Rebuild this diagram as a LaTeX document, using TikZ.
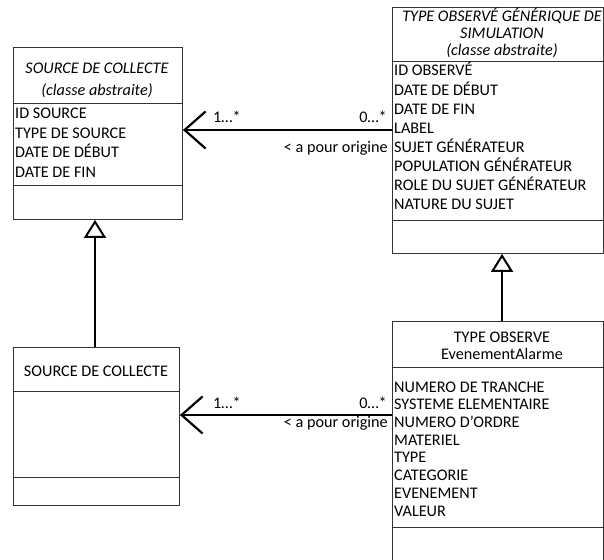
\documentclass[tikz,border=0pt]{standalone}
\usepackage{fontspec}
\setmainfont{Carlito}
\usetikzlibrary{arrows.meta}
\begin{document}
\begin{tikzpicture}[x=1pt,y=-1pt,
  box/.style={draw=black!80, line width=0.9pt, inner sep=0pt, anchor=north west, fill=none},
  sep/.style={draw=black!80, line width=0.9pt},
  txt/.style={inner sep=0pt, font=\fontsize{16.2}{19}\selectfont},
  attr/.style={txt, anchor=base west, yshift=-5.2pt},
  ttl/.style={txt, anchor=base, yshift=-5.2pt},
  lbl/.style={txt},
  assoc/.style={line width=2.2pt, -{Straight Barb[length=21pt, width=37pt, line width=2.2pt]}},
  inh/.style={line width=2pt, -{Triangle[open, length=18pt, width=22pt, line width=2pt]}}]
\useasboundingbox (0,0) rectangle (604,559);

% boxes
\node[box, minimum width=169pt, minimum height=172pt] (src) at (13,47) {};
\node[box, minimum width=211pt, minimum height=246pt] (gen) at (392,7) {};
\node[box, minimum width=166pt, minimum height=158pt] (srcc) at (13,347) {};
\node[box, minimum width=211pt, minimum height=250pt] (alarm) at (392,321) {};

% separators
\draw[sep] (src.west |- 0,103) -- (src.east |- 0,103);
\draw[sep] (src.west |- 0,185) -- (src.east |- 0,185);
\draw[sep] (gen.west |- 0,61) -- (gen.east |- 0,61);
\draw[sep] (gen.west |- 0,220) -- (gen.east |- 0,220);
\draw[sep] (srcc.west |- 0,391) -- (srcc.east |- 0,391);
\draw[sep] (srcc.west |- 0,477) -- (srcc.east |- 0,477);
\draw[sep] (alarm.west |- 0,367) -- (alarm.east |- 0,367);
\draw[sep] (alarm.west |- 0,527) -- (alarm.east |- 0,527);

% titles
\node[ttl] (t1a) at (97,68) {\itshape SOURCE DE COLLECTE};
\node[ttl] (t1b) at (97,90) {\itshape (classe abstraite)};
\node[ttl] (t2a) at (502,16) {\itshape TYPE OBSERVÉ GÉNÉRIQUE DE};
\node[ttl] (t2b) at (502,33) {\itshape SIMULATION};
\node[ttl] (t2c) at (502,50) {\itshape (classe abstraite)};
\node[ttl] (t3) at (96,371) {SOURCE DE COLLECTE};
\node[ttl] (t4a) at (502,337) {TYPE OBSERVE};
\node[ttl] (t4b) at (502,354) {EvenementAlarme};

% attributes box 1
\node[attr] (a11) at (15,113) {ID SOURCE};
\node[attr] (a12) at (15,133) {TYPE DE SOURCE};
\node[attr] (a13) at (15,152) {DATE DE DÉBUT};
\node[attr] (a14) at (15,172) {DATE DE FIN};

% attributes box 2
\node[attr] (a21) at (394,70) {ID OBSERVÉ};
\node[attr] (a22) at (394,90) {DATE DE DÉBUT};
\node[attr] (a23) at (394,109) {DATE DE FIN};
\node[attr] (a24) at (394,128) {LABEL};
\node[attr] (a25) at (394,147) {SUJET GÉNÉRATEUR};
\node[attr] (a26) at (394,166) {POPULATION GÉNÉRATEUR};
\node[attr] (a27) at (394,185) {ROLE DU SUJET GÉNÉRATEUR};
\node[attr] (a28) at (394,204) {NATURE DU SUJET};

% attributes box 4
\node[attr] (a41) at (394,387) {NUMERO DE TRANCHE};
\node[attr] (a42) at (394,404.5) {SYSTEME ELEMENTAIRE};
\node[attr] (a43) at (394,422) {NUMERO D’ORDRE};
\node[attr] (a44) at (394,440) {MATERIEL};
\node[attr] (a45) at (394,457.5) {TYPE};
\node[attr] (a46) at (394,475) {CATEGORIE};
\node[attr] (a47) at (394,493) {EVENEMENT};
\node[attr] (a48) at (394,511) {VALEUR};

% associations
\draw[assoc] (gen.west |- 0,130) -- (src.east |- 0,130);
\node[lbl, anchor=west] (m1l) at (213,117) {1…*};
\node[lbl, anchor=east] (m1r) at (387,117) {0…*};
\node[lbl, anchor=east] (r1) at (388,148) {< a pour origine};

\draw[assoc] (alarm.west |- 0,415) -- (srcc.east |- 0,415);
\node[lbl, anchor=west] (m2l) at (213,403) {1…*};
\node[lbl, anchor=east] (m2r) at (387,403) {0…*};
\node[lbl, anchor=east] (r2) at (388,423) {< a pour origine};

% generalisations
\coordinate (g1) at (95,0);
\draw[inh] (srcc.north -| g1) -- (src.south -| g1);
\coordinate (g2) at (502,0);
\draw[inh] (alarm.north -| g2) -- (gen.south -| g2);
\end{tikzpicture}
\end{document}
